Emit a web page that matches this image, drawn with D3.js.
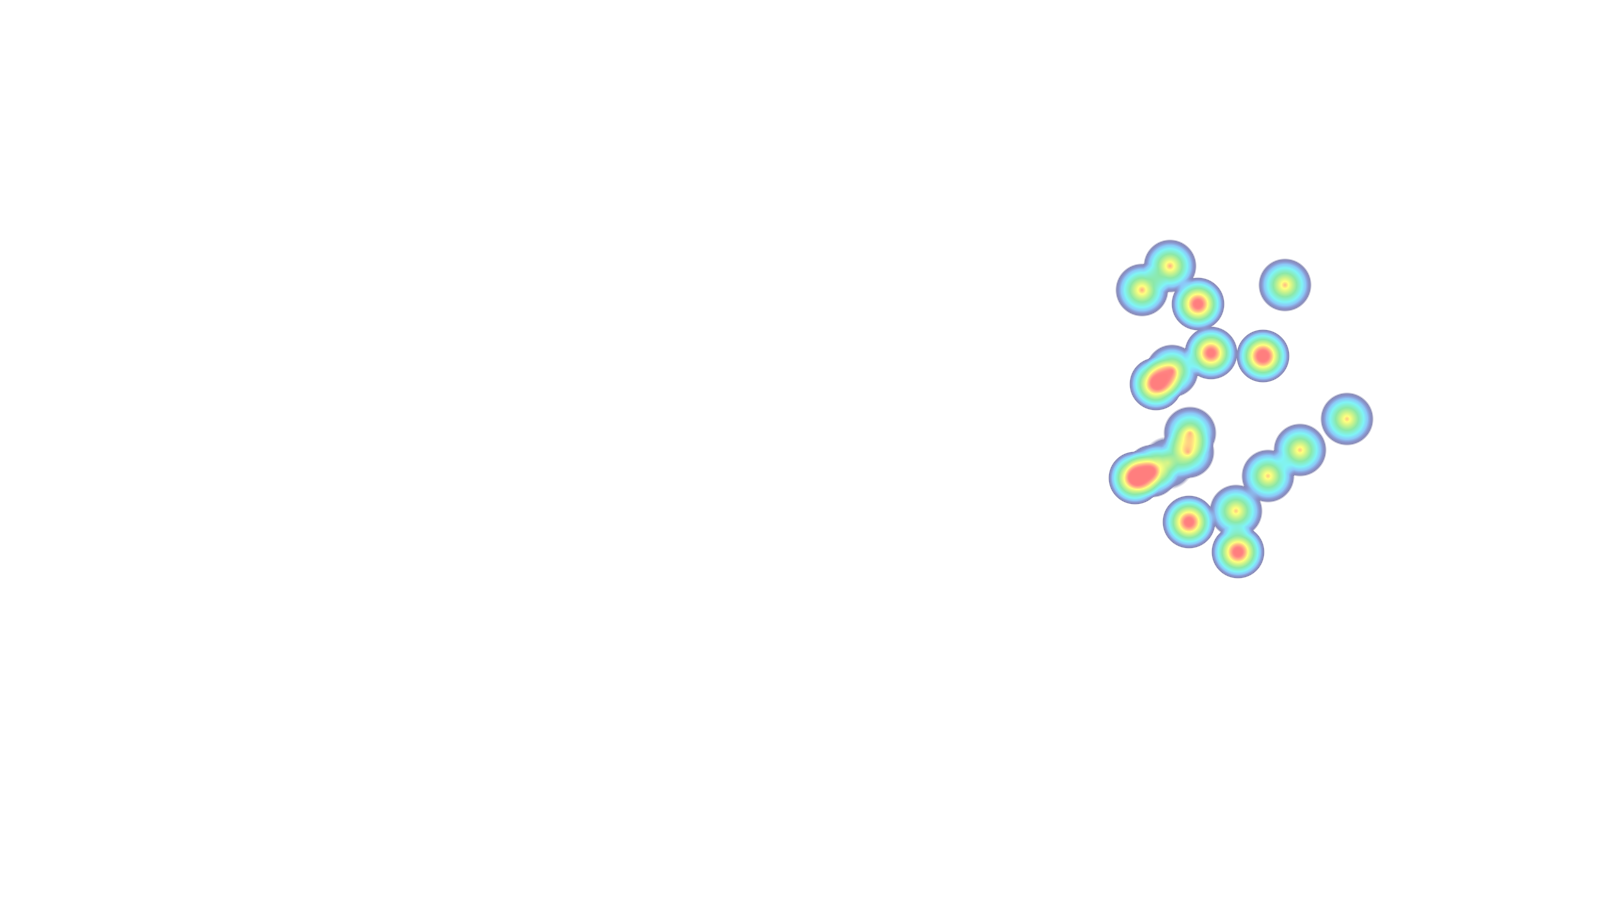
<!DOCTYPE html>
<html>
<head>
<meta charset="utf-8">
<script src="https://cdn.jsdelivr.net/npm/d3@7"></script>
<style>
  html, body { margin: 0; padding: 0; background: #ffffff; }
  #chart { width: 1600px; height: 900px; position: relative; }
  canvas { display: block; }
</style>
</head>
<body>
<div id="chart"></div>
<script>
// ---- data (longitude, latitude, value) ----
const lngs = [116.292, 116.320, 116.348, 116.435, 116.361, 116.413, 116.306, 116.322,
              116.340, 116.338, 116.285, 116.302, 116.318, 116.339, 116.386, 116.388,
              116.418, 116.450, 116.497];
const lats = [39.990, 40.014, 39.976, 39.995, 39.927, 39.924, 39.896, 39.909,
              39.847, 39.828, 39.802, 39.809, 39.817, 39.758, 39.769, 39.728,
              39.804, 39.830, 39.861];
const values = [80, 80, 118, 78, 115, 130, 120, 80,
                66, 66, 128, 80, 30, 118, 75, 120,
                75, 75, 75];
const valueMax = 100;

const W = 1600, H = 900;
const x = d3.scaleLinear().domain([116.25, 116.55]).range([1100, 1400]);
const y = d3.scaleLinear().domain([40.05, 39.70]).range([230, 580]);
const weight = d3.scaleLinear().domain([0, valueMax]).range([0, 1]);

// kernel & colour ramp (style)
const R = 27, P = 1.35;
const color = d3.scaleLinear()
  .domain([0.0, 0.05, 0.11, 0.20, 0.36, 0.52, 0.64, 0.78, 0.92, 1.0])
  .range(["#8484aa", "#8a94cc", "#8cc8f8", "#80f4f6", "#8ce8a8", "#d0f48a",
          "#ffff80", "#ffb884", "#ff8484", "#ff7e7e"])
  .interpolate(d3.interpolateRgb)
  .clamp(true);

const canvas = d3.select("#chart").append("canvas")
  .attr("width", W).attr("height", H).node();
const ctx = canvas.getContext("2d");
ctx.fillStyle = "#ffffff";
ctx.fillRect(0, 0, W, H);

const field = new Float32Array(W * H);
const pts = lngs.map((d, i) => ({ px: x(d), py: y(lats[i]), w: weight(values[i]) }));
pts.forEach(p => {
  const x0 = Math.max(0, Math.floor(p.px - R)), x1 = Math.min(W - 1, Math.ceil(p.px + R));
  const y0 = Math.max(0, Math.floor(p.py - R)), y1 = Math.min(H - 1, Math.ceil(p.py + R));
  for (let j = y0; j <= y1; j++) {
    for (let i = x0; i <= x1; i++) {
      const r = Math.hypot(i + 0.5 - p.px, j + 0.5 - p.py);
      if (r < R) field[j * W + i] += p.w * Math.pow(1 - r / R, P);
    }
  }
});

const img = ctx.getImageData(0, 0, W, H);
const data = img.data;
for (let k = 0; k < W * H; k++) {
  const t = field[k];
  if (t <= 0) continue;
  const c = d3.rgb(color(Math.min(1, t)));
  const a = Math.min(1, t / 0.02);
  data[k * 4] = 255 * (1 - a) + c.r * a;
  data[k * 4 + 1] = 255 * (1 - a) + c.g * a;
  data[k * 4 + 2] = 255 * (1 - a) + c.b * a;
  data[k * 4 + 3] = 255;
}
ctx.putImageData(img, 0, 0);
</script>
</body>
</html>
